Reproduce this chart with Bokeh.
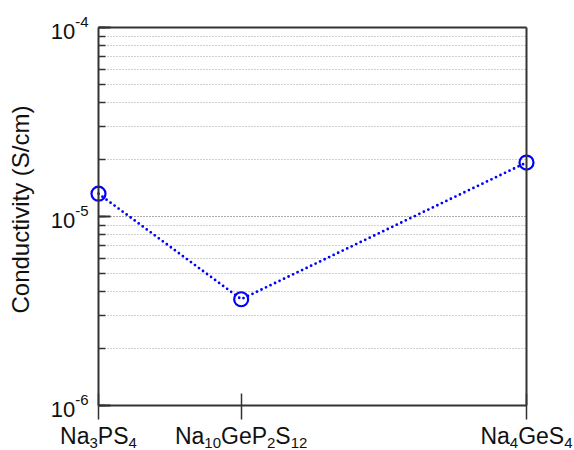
import math
from bokeh.plotting import figure
from bokeh.models import (FixedTicker, LogTicker, ColumnDataSource, Label,
                          LinearAxis, LogAxis, Grid, CustomLabelingPolicy)
from bokeh.embed import file_html
from bokeh.resources import INLINE

# ---- data ----
materials = [
    [("Na", "n"), ("3", "sub"), ("PS", "n"), ("4", "sub")],
    [("Na", "n"), ("10", "sub"), ("GeP", "n"), ("2", "sub"), ("S", "n"), ("12", "sub")],
    [("Na", "n"), ("4", "sub"), ("GeS", "n"), ("4", "sub")],
]
x_pos = [0, 1, 3]
conductivity = [1.32e-5, 3.65e-6, 1.93e-5]
y_ticks = [1e-6, 1e-5, 1e-4]
y_tick_exponents = ["-6", "-5", "-4"]
y_label = "Conductivity (S/cm)"

FONT = "Liberation Sans"
TXT = "#111111"
AX = "#333333"

# ---- layout: the frame fills the page; data box sits at these pixel edges ----
W, H = 574, 450
BOX_L, BOX_R, BOX_T, BOX_B = 98, 526, 27, 405
X0, X1 = 0, 3
Y0, Y1 = 1e-6, 1e-4
ppx = (BOX_R - BOX_L) / (X1 - X0)
dec = (BOX_B - BOX_T) / (math.log10(Y1) - math.log10(Y0))
x_range = (X0 - BOX_L / ppx, X1 + (W - BOX_R) / ppx)
y_range = (10 ** (math.log10(Y0) - (H - BOX_B) / dec),
           10 ** (math.log10(Y1) + BOX_T / dec))

# Arial / Liberation Sans advance widths (per em)
ADV = {"N": .722, "a": .556, "P": .667, "S": .667, "G": .778, "e": .556, "-": .333}
def text_w(s, size):
    return sum(ADV.get(c, .556) for c in s) * size

HIDE = "for (const i of Array.from(indices.ones())) { indices.unset(i) }; return indices"

p = figure(width=W, height=H, y_axis_type="log", title=None,
           x_range=x_range, y_range=y_range,
           output_backend="svg", toolbar_location=None,
           x_axis_location=None, y_axis_location=None,
           min_border=0)
p.outline_line_color = None
p.xgrid.grid_line_color = None
p.ygrid.grid_line_color = None

# grid (dotted), limited to the data box
grid = Grid(dimension=1, ticker=LogTicker(num_minor_ticks=10),
            bounds=(Y0, Y1), cross_bounds=(X0, X1),
            grid_line_color="#a0a0a0", grid_line_dash="1 2", grid_line_width=1,
            minor_grid_line_color="#a0a0a0", minor_grid_line_dash="1 2",
            minor_grid_line_width=1)
p.add_layout(grid)

# data
src = ColumnDataSource(dict(x=x_pos, y=conductivity))
p.line("x", "y", source=src, line_color="#0000ff", line_width=2.8,
       line_dash="0 5", line_cap="round")
p.scatter("x", "y", source=src, marker="circle", size=14,
          fill_color=None, line_color="#0000ff", line_width=2.2)

# bottom axis
xb = LinearAxis(fixed_location=Y0, bounds=(X0, X1), ticker=FixedTicker(ticks=x_pos),
                major_tick_in=12, major_tick_out=14, minor_tick_line_color=None,
                major_label_policy=CustomLabelingPolicy(code=HIDE),
                axis_line_width=2, axis_line_color=AX,
                major_tick_line_width=1.5, major_tick_line_color=AX)
p.add_layout(xb, "below")

# left axis
yl = LogAxis(fixed_location=X0, bounds=(Y0, Y1), ticker=LogTicker(num_minor_ticks=10),
             major_tick_in=12, major_tick_out=0, minor_tick_in=7, minor_tick_out=0,
             major_label_policy=CustomLabelingPolicy(code=HIDE),
             axis_line_width=2, axis_line_color=AX,
             major_tick_line_width=2, major_tick_line_color=AX,
             minor_tick_line_width=1.5, minor_tick_line_color=AX)
p.add_layout(yl, "left")

# top and right frame lines
top = LinearAxis(fixed_location=Y1, bounds=(X0, X1), ticker=FixedTicker(ticks=[]),
                 axis_line_width=2, axis_line_color=AX,
                 major_tick_line_color=None, minor_tick_line_color=None)
p.add_layout(top, "above")
right = LogAxis(fixed_location=X1, bounds=(Y0, Y1), ticker=FixedTicker(ticks=[]),
                axis_line_width=2, axis_line_color=AX,
                major_tick_line_color=None, minor_tick_line_color=None)
p.add_layout(right, "right")

BASE_FIX = 0.33  # em-proportional baseline correction

def add_rich(parts, x, y, base, small, align, dx, dy, sub_dy, sup_dy):
    widths = [text_w(t, base if m == "n" else small) for t, m in parts]
    total = sum(widths)
    cur = dx - total / 2 if align == "center" else dx - total
    for (t, m), w in zip(parts, widths):
        size = base if m == "n" else small
        off = dy + (sub_dy if m == "sub" else sup_dy if m == "sup" else 0) + BASE_FIX * size
        p.add_layout(Label(x=x, y=y, x_offset=cur, y_offset=off, text=t,
                           text_font=FONT, text_font_size=f"{size}px",
                           text_color=TXT, text_align="left",
                           text_baseline="alphabetic"))
        cur += w

# x tick labels
for xp, parts in zip(x_pos, materials):
    add_rich(parts, xp, Y0, 23, 15, "center", 0, -38, -4, 0)

# y tick labels
for yt, ex in zip(y_ticks, y_tick_exponents):
    add_rich([("10", "n"), (ex, "sup")], X0, yt, 22, 15, "right", -10, -11, 0, 12)

# y axis title
p.add_layout(Label(x=X0, y=1e-5, x_offset=-78, y_offset=7, text=y_label,
                   angle=math.pi / 2, text_font=FONT, text_font_size="24px",
                   text_color=TXT, text_align="center", text_baseline="middle"))

open("out.html", "w").write(file_html(p, INLINE))
